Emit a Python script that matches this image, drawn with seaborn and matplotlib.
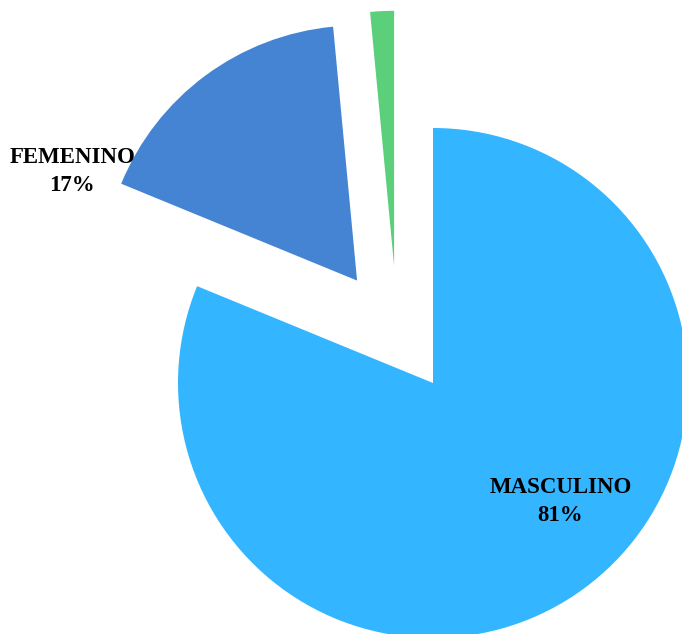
import matplotlib
matplotlib.use("Agg")
import matplotlib.pyplot as plt
import seaborn as sns
import numpy as np

# data
categories = ["MASCULINO", "FEMENINO", "OTRO"]
values = [81.2, 17.3, 1.5]
colors = ["#33B5FF", "#4584D3", "#5BCF7A"]
show_label = [True, True, False]

sns.set_theme(style="white")
plt.rcParams["font.family"] = ["Liberation Serif", "DejaVu Serif"]

fig = plt.figure(figsize=(6.82, 6.34), dpi=100)
ax = fig.add_axes([0, 0, 1, 1])

wedges, _ = ax.pie(
    values,
    colors=colors,
    startangle=90,
    counterclock=False,
    explode=[0, 0.5, 0.48],
    radius=1,
    wedgeprops=dict(linewidth=0),
)

# nudge the thin slice sideways like in the original
cx, cy = wedges[2].center
wedges[2].set_center((cx - 0.13, cy - 0.02))

label_pos = {"MASCULINO": (0.50, -0.465), "FEMENINO": (-1.415, 0.83)}
total = sum(values)
for cat, v, show in zip(categories, values, show_label):
    if not show:
        continue
    x, y = label_pos[cat]
    ax.text(x, y, f"{cat}\n{round(v / total * 100)}%", ha="center", va="center",
            fontsize=16.5, fontweight="bold", color="black", linespacing=1.45)

ax.set_xlim(-433 / 255, (682 - 433) / 255)
ax.set_ylim(-(634 - 383) / 255, 383 / 255)
ax.set_aspect("equal")
ax.axis("off")

fig.savefig("out.png", dpi=100)
